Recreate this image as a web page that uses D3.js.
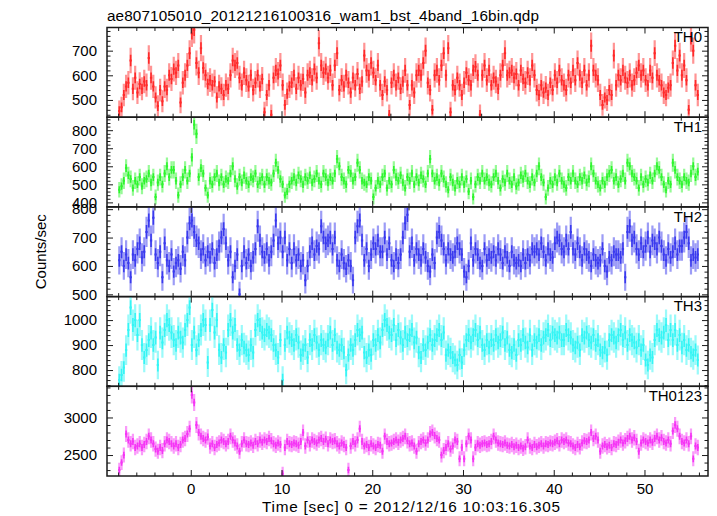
<!DOCTYPE html>
<html>
<head>
<meta charset="utf-8">
<script src="https://cdn.jsdelivr.net/npm/d3@7/dist/d3.min.js"></script>
<style>
html,body{margin:0;padding:0;background:#fff;}
svg{display:block;}
text{font-family:"Liberation Sans",Arial,Helvetica,sans-serif;}
</style>
</head>
<body>
<svg id="chart" width="717" height="516"></svg>
<script>
// ---------- data ----------
const titleText = "ae807105010_20121216100316_wam1_bst_4band_16bin.qdp";
const xLabel = "Time [sec] 0 = 2012/12/16 10:03:16.305";
const yLabel = "Counts/sec";
const panelNames = ["TH0", "TH1", "TH2", "TH3", "TH0123"];
const seriesColors = ["#ff2a2a", "#2ef52e", "#3a3aee", "#35f5f5", "#f535f5"];
const binStart = -8;      // sec
const binWidth = 0.25;    // sec
const xTickMajor = [-10, 0, 10, 20, 30, 40, 50];
const xDomain = [-9.23, 57.0];
const yDomains = [[430, 794], [375, 872], [492, 808], [735, 1094], [2221, 3415]];
const yTicksMajor = [[500, 600, 700], [400, 500, 600, 700, 800], [500, 600, 700, 800], [800, 900, 1000], [2500, 3000]];
const yMinorStep = [20, 20, 20, 20, 100];

const th0 = [455,470,520,555, 570,660,545,590, 530,565,545,575, 560,670,590,555, 510,475,540,495, 555,540,600,585, 625,610,640,490, 570,600,640,690,
 770,785,650,610, 710,630,600,565, 580,560,575,510, 555,545,520,560, 545,600,660,640, 650,590,560,610, 580,555,600,540, 570,600,555,585,
 450,520,560,440, 590,620,605,640, 560,480,525,555, 570,600,545,590, 560,585,530,600, 610,580,625,590, 730,640,610,625, 590,620,560,640,
 690,540,580,555, 600,570,530,590, 560,605,545,575, 680,620,600,650, 610,580,640,560, 520,575,540,440, 570,600,560,590, 545,575,620,560,
 480,560,530,600, 620,600,650,700, 570,540,460,600, 620,580,640,690, 600,710,450,560, 540,590,560,520, 570,610,580,560, 620,635,600,440,
 600,640,580,620, 560,590,575,545, 600,640,690,600, 610,620,590,605, 560,620,585,570, 610,580,640,600, 540,520,560,530, 550,520,570,540,
 600,570,620,580, 560,540,600,570, 620,580,650,600, 570,620,560,600, 720,620,600,580, 520,480,510,500, 540,520,680,560, 600,580,620,590,
 570,600,560,580, 610,640,600,620, 580,560,620,590, 690,600,580,560, 530,520,550,560, 650,720,620,680, 600,640,580,460, 750,700,560,520];

const th1 = [470,490,520,590, 550,530,480,520, 500,540,490,520, 530,560,510,540, 430,510,540,500, 560,600,540,580, 580,520,440,500, 540,580,520,560,
 650,830,780,540, 590,560,480,440, 520,500,540,560, 510,540,500,530, 520,560,600,530, 490,540,510,550, 520,500,540,530, 560,500,520,540,
 500,540,520,510, 560,620,580,530, 500,440,460,500, 520,540,510,550, 530,500,540,520, 550,510,530,560, 520,500,560,540, 510,540,520,560,
 640,600,540,520, 500,580,560,520, 540,620,580,520, 510,500,540,520, 430,480,520,500, 540,560,480,520, 500,580,540,520, 550,510,480,540,
 520,560,500,540, 510,550,530,500, 560,640,560,520, 540,510,560,530, 500,470,540,510, 480,520,500,540, 500,530,460,520, 430,500,540,520,
 560,520,540,510, 500,540,560,520, 480,530,510,560, 520,500,540,490, 510,550,530,560, 520,500,540,510, 560,600,540,510, 430,480,520,500,
 540,510,560,520, 500,480,540,520, 560,520,500,540, 520,550,510,530, 600,560,520,500, 480,520,500,540, 560,580,520,540, 500,530,560,520,
 620,600,560,540, 520,480,540,500, 530,510,550,520, 560,600,580,540, 500,470,520,500, 620,580,540,520, 500,540,520,510, 560,600,540,570];

const th2 = [620,650,600,640, 610,560,640,620, 660,680,630,650, 720,760,690,770, 640,610,650,560, 680,620,600,640, 580,610,620,590, 650,620,700,750,
 760,720,690,680, 640,660,620,650, 630,660,610,640, 670,700,730,680, 620,650,560,600, 640,500,600,650, 610,640,600,630, 660,740,690,650,
 630,660,620,650, 690,760,680,700, 650,700,620,660, 610,660,620,640, 600,620,550,600, 650,680,640,670, 660,740,700,680, 690,700,660,700,
 620,600,640,610, 590,620,600,550, 700,740,760,690, 620,660,600,640, 680,660,690,650, 650,700,640,680, 620,600,640,610, 640,700,750,780,
 650,680,620,660, 640,620,660,630, 600,580,640,610, 700,720,690,660, 620,660,640,630, 650,680,660,640, 580,560,600,680, 620,660,640,610,
 600,660,620,640, 630,650,620,660, 640,610,650,630, 600,650,620,610, 620,600,640,610, 640,620,660,650, 660,640,680,650, 620,660,640,630,
 680,700,690,660, 650,690,660,720, 660,640,680,650, 620,660,640,630, 600,640,620,610, 620,660,600,580, 630,620,650,640, 640,630,660,560,
 720,740,690,700, 660,640,680,650, 670,700,650,690, 680,660,700,670, 640,620,660,630, 650,680,640,670, 670,700,720,680, 620,640,630,640];

const th3 = [760,780,810,880, 960,1050,980,1000, 940,1000,900,850, 880,920,950,900, 930,820,950,910, 960,1000,980,950, 920,900,950,930, 910,960,1000,1050,
 900,950,880,920, 960,1000,980,830, 980,1040,950,1000, 880,850,900,870, 960,1000,950,980, 900,880,920,890, 880,860,900,870, 960,1000,980,950,
 940,960,950,940, 900,880,850,920, 760,900,950,930, 920,900,940,910, 860,880,900,850, 920,900,940,910, 880,920,900,890, 920,950,900,940,
 890,880,900,870, 800,860,900,880, 920,960,940,950, 870,850,880,860, 920,900,940,910, 960,1000,980,950, 940,980,920,960, 930,900,950,920,
 940,960,910,930, 870,850,900,880, 910,940,900,920, 940,960,920,950, 860,880,870,850, 840,820,860,830, 880,920,940,910, 940,960,920,950,
 900,880,920,890, 920,900,940,910, 920,950,900,930, 880,870,900,860, 920,900,940,910, 890,940,880,920, 910,940,900,930, 940,960,920,950,
 940,930,950,920, 920,960,940,930, 900,890,910,880, 940,930,950,920, 910,940,900,920, 880,870,890,860, 920,940,930,910, 940,960,920,950,
 900,940,920,910, 890,920,880,900, 840,820,860,850, 920,960,940,930, 950,980,920,960, 920,960,900,940, 890,920,880,900, 870,860,880,840];

const th0123 = [2300,2400,2500,2780, 2700,2650,2680,2600, 2620,2650,2600,2640, 2680,2750,2700,2650, 2580,2550,2600,2560, 2650,2700,2680,2650, 2620,2650,2600,2640, 2700,2720,2780,2850,
 3300,3200,2900,2800, 2750,2720,2700,2740, 2620,2650,2600,2640, 2660,2700,2680,2650, 2680,2750,2700,2660, 2620,2550,2650,2700, 2650,2640,2660,2630, 2680,2650,2700,2670,
 2700,2680,2720,2690, 2650,2630,2660,2640, 2250,2600,2680,2650, 2640,2660,2650,2630, 2680,2800,2620,2700, 2650,2700,2680,2660, 2700,2720,2680,2710, 2650,2700,2680,2690,
 2650,2620,2660,2640, 2600,2300,2620,2680, 2650,2700,2850,2680, 2620,2640,2600,2650, 2620,2600,2640,2630, 2550,2750,2680,2650, 2660,2680,2700,2670, 2700,2720,2750,2690,
 2650,2660,2620,2550, 2650,2680,2700,2660, 2700,2780,2800,2760, 2720,2700,2500,2560, 2600,2650,2580,2620, 2700,2680,2450,2600, 2450,2650,2750,2700, 2450,2600,2650,2630,
 2650,2660,2640,2650, 2680,2750,2700,2660, 2650,2640,2660,2630, 2620,2640,2610,2630, 2600,2620,2590,2610, 2700,2620,2600,2640, 2610,2630,2650,2620, 2650,2640,2660,2650,
 2670,2690,2650,2700, 2680,2700,2660,2650, 2620,2600,2640,2610, 2660,2690,2680,2700, 2800,2720,2750,2700, 2550,2620,2640,2610, 2630,2600,2650,2640, 2670,2700,2660,2690,
 2720,2750,2700,2730, 2680,2550,2660,2700, 2680,2660,2700,2670, 2720,2750,2700,2730, 2680,2660,2700,2650, 2820,2900,2850,2750, 2680,2660,2700,2650, 2750,2450,2620,2600];

const series = [th0, th1, th2, th3, th0123];

// ---------- layout ----------
const svg = d3.select("#chart");
const plotLeft = 107, plotRight = 708, plotTop = 27.5, plotBottom = 476;
const nPanels = series.length;
const ph = (plotBottom - plotTop) / nPanels;
const fontSize = 15;
const frameColor = "#1a1a1a";

const x = d3.scaleLinear().domain(xDomain).range([plotLeft, plotRight]);
const xMinor = d3.range(-8, 57, 2);

const defs = svg.append("defs");

series.forEach((vals, i) => {
  const top = plotTop + i * ph;
  const bot = top + ph;
  const y = d3.scaleLinear().domain(yDomains[i]).range([bot, top]);
  const color = seriesColors[i];

  const clipId = "clip" + i;
  defs.append("clipPath").attr("id", clipId)
    .append("rect").attr("x", plotLeft).attr("y", top).attr("width", plotRight - plotLeft).attr("height", ph);

  const data = vals.map((v, k) => ({t: binStart + binWidth * (k + 0.5), v: v, e: Math.sqrt(v / binWidth)}));

  const g = svg.append("g").attr("clip-path", `url(#${clipId})`);
  g.selectAll("line.err").data(data).join("line")
    .attr("class", "err")
    .attr("x1", d => x(d.t)).attr("x2", d => x(d.t))
    .attr("y1", d => y(d.v - d.e)).attr("y2", d => y(d.v + d.e))
    .attr("stroke", color).attr("stroke-opacity", 0.5).attr("stroke-width", 2.2);
  g.selectAll("line.bin").data(data).join("line")
    .attr("class", "bin")
    .attr("x1", d => x(d.t - binWidth / 2)).attr("x2", d => x(d.t + binWidth / 2))
    .attr("y1", d => y(d.v)).attr("y2", d => y(d.v))
    .attr("stroke", color).attr("stroke-width", 2);
  g.selectAll("line.core").data(data).join("line")
    .attr("class", "core")
    .attr("x1", d => x(d.t)).attr("x2", d => x(d.t))
    .attr("y1", d => y(d.v - d.e * 0.45)).attr("y2", d => y(d.v + d.e * 0.45))
    .attr("stroke", color).attr("stroke-width", 1.6);

  const yMin = Math.ceil(yDomains[i][0] / yMinorStep[i]) * yMinorStep[i];
  const yMinorVals = d3.range(yMin, yDomains[i][1], yMinorStep[i]).filter(v => !yTicksMajor[i].includes(v));

  const styleAxis = sel => {
    sel.select(".domain").remove();
    sel.selectAll(".tick line").attr("stroke", frameColor).attr("stroke-width", 1);
    sel.selectAll(".tick text").attr("font-size", fontSize).attr("fill", "#000")
      .attr("font-family", '"Liberation Sans",Arial,Helvetica,sans-serif');
  };

  svg.append("g").attr("transform", `translate(${plotLeft},0)`)
    .call(d3.axisLeft(y).tickValues(yTicksMajor[i]).tickSize(-6).tickPadding(10).tickFormat(d3.format("d")))
    .call(styleAxis);
  svg.append("g").attr("transform", `translate(${plotLeft},0)`)
    .call(d3.axisLeft(y).tickValues(yMinorVals).tickSize(-3.5).tickFormat(""))
    .call(styleAxis);
  svg.append("g").attr("transform", `translate(${plotRight},0)`)
    .call(d3.axisRight(y).tickValues(yTicksMajor[i]).tickSize(-6).tickFormat(""))
    .call(styleAxis);
  svg.append("g").attr("transform", `translate(${plotRight},0)`)
    .call(d3.axisRight(y).tickValues(yMinorVals).tickSize(-3.5).tickFormat(""))
    .call(styleAxis);

  const isLast = i === nPanels - 1;
  const xMaj = xTickMajor.filter(v => v >= xDomain[0] && v <= xDomain[1]);
  const xMin = xMinor.filter(v => !xMaj.includes(v));
  svg.append("g").attr("transform", `translate(0,${top})`)
    .call(d3.axisTop(x).tickValues(xMaj).tickSize(-6).tickFormat(""))
    .call(styleAxis);
  svg.append("g").attr("transform", `translate(0,${top})`)
    .call(d3.axisTop(x).tickValues(xMin).tickSize(-3.5).tickFormat(""))
    .call(styleAxis);
  svg.append("g").attr("transform", `translate(0,${bot})`)
    .call(d3.axisBottom(x).tickValues(xMaj).tickSize(-6).tickPadding(7).tickFormat(isLast ? d3.format("d") : ""))
    .call(styleAxis);
  svg.append("g").attr("transform", `translate(0,${bot})`)
    .call(d3.axisBottom(x).tickValues(xMin).tickSize(-3.5).tickFormat(""))
    .call(styleAxis);

  svg.append("rect").attr("x", plotLeft).attr("y", top).attr("width", plotRight - plotLeft).attr("height", ph)
    .attr("fill", "none").attr("stroke", frameColor).attr("stroke-width", 1.5);

  svg.append("text").attr("x", 702).attr("y", top + 14.8).attr("text-anchor", "end")
    .attr("font-size", fontSize).attr("fill", "#000").text(panelNames[i]);
});

// title & labels
svg.append("text").attr("x", plotLeft).attr("y", 20.7).attr("font-size", 15.3).attr("fill", "#000")
  .attr("textLength", 432).attr("lengthAdjust", "spacing").text(titleText);
svg.append("text").attr("x", 411).attr("y", 511.5).attr("text-anchor", "middle")
  .attr("font-size", 15.3).attr("fill", "#000")
  .attr("textLength", 298).attr("lengthAdjust", "spacing").text(xLabel);
svg.append("text").attr("transform", `translate(46,${(plotTop + plotBottom) / 2}) rotate(-90)`)
  .attr("text-anchor", "middle").attr("font-size", fontSize).attr("fill", "#000").text(yLabel);
</script>
</body>
</html>
